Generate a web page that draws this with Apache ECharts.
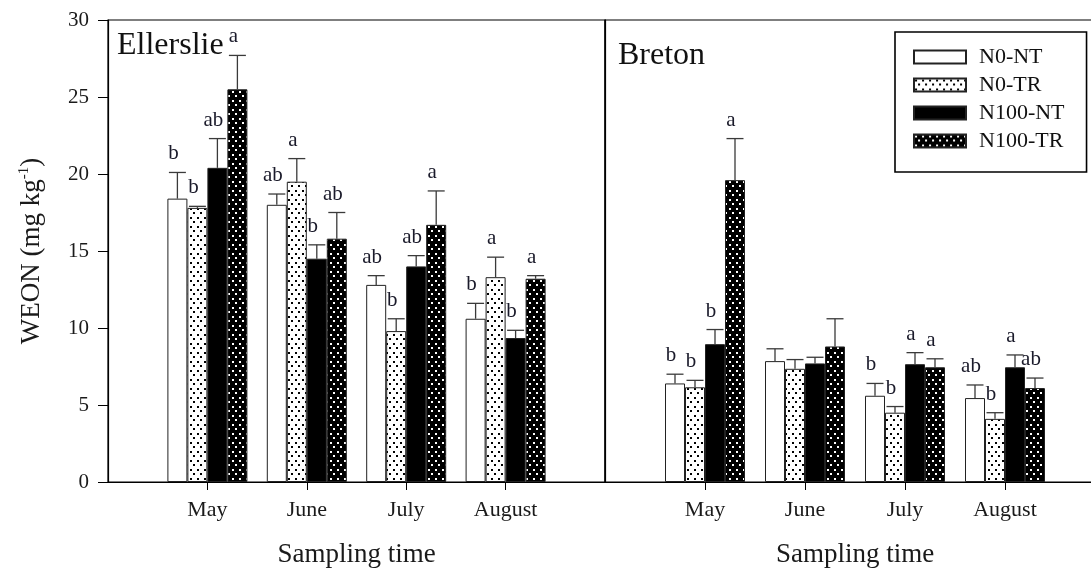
<!DOCTYPE html>
<html><head><meta charset="utf-8">
<script src="https://cdn.jsdelivr.net/npm/echarts@6/dist/echarts.min.js"></script>
<style>html,body{margin:0;padding:0;background:#fff;overflow:hidden}#c{width:1112px;height:575px}</style>
</head><body><div id="c"></div>
<script>
// ---------- DATA ----------
const months = ['May', 'June', 'July', 'August'];
const treatments = ['N0-NT', 'N0-TR', 'N100-NT', 'N100-TR'];
const panels = ['Ellerslie', 'Breton'];

// Ellerslie means and upper error (SE)
const ell_N0NT = [18.4, 18.0, 12.8, 10.6];
const ell_N0TR = [17.8, 19.5, 9.8, 13.3];
const ell_N100NT = [20.4, 14.5, 14.0, 9.35];
const ell_N100TR = [25.5, 15.8, 16.7, 13.2];
const ell_N0NT_err = [1.7, 0.7, 0.6, 1.0];
const ell_N0TR_err = [0.1, 1.5, 0.8, 1.3];
const ell_N100NT_err = [1.9, 0.9, 0.7, 0.5];
const ell_N100TR_err = [2.2, 1.7, 2.2, 0.2];
const ell_N0NT_sig = ['b', 'ab', 'ab', 'b'];
const ell_N0TR_sig = ['b', 'a', 'b', 'a'];
const ell_N100NT_sig = ['ab', 'b', 'ab', 'b'];
const ell_N100TR_sig = ['a', 'ab', 'a', 'a'];

// Breton
const bre_N0NT = [6.4, 7.85, 5.6, 5.45];
const bre_N0TR = [6.15, 7.35, 4.5, 4.1];
const bre_N100NT = [8.95, 7.7, 7.65, 7.45];
const bre_N100TR = [19.6, 8.8, 7.45, 6.1];
const bre_N0NT_err = [0.6, 0.8, 0.8, 0.85];
const bre_N0TR_err = [0.45, 0.6, 0.4, 0.4];
const bre_N100NT_err = [0.95, 0.4, 0.75, 0.8];
const bre_N100TR_err = [2.7, 1.8, 0.55, 0.65];
const bre_N0NT_sig = ['b', '', 'b', 'ab'];
const bre_N0TR_sig = ['b', '', 'b', 'b'];
const bre_N100NT_sig = ['b', '', 'a', 'a'];
const bre_N100TR_sig = ['a', '', 'a', 'ab'];

const yMin = 0, yMax = 30, yStep = 5;

// ---------- STYLE ----------
const FONT = '"Liberation Serif", "Times New Roman", serif';
const BAR_W = 20, CAP = 8.5;

function dots(bg, fg) {
  const c = document.createElement('canvas');
  c.width = 7; c.height = 9;
  const g = c.getContext('2d');
  g.fillStyle = bg; g.fillRect(0, 0, 7, 9);
  g.fillStyle = fg;
  g.fillRect(1, 1, 2, 2);
  g.fillRect(4, 5, 2, 2);
  return { image: c, repeat: 'repeat' };
}
const fills = ['#ffffff', dots('#ffffff', '#000000'), '#000000', dots('#000000', '#ffffff')];

const axisCats = [''].concat(months, ['']);
const pad = arr => ['-'].concat(arr, ['-']);

const data = [
  { vals: [ell_N0NT, ell_N0TR, ell_N100NT, ell_N100TR],
    errs: [ell_N0NT_err, ell_N0TR_err, ell_N100NT_err, ell_N100TR_err],
    sig: [ell_N0NT_sig, ell_N0TR_sig, ell_N100NT_sig, ell_N100TR_sig] },
  { vals: [bre_N0NT, bre_N0TR, bre_N100NT, bre_N100TR],
    errs: [bre_N0NT_err, bre_N0TR_err, bre_N100NT_err, bre_N100TR_err],
    sig: [bre_N0NT_sig, bre_N0TR_sig, bre_N100NT_sig, bre_N100TR_sig] }
];

const series = [];
data.forEach((p, gi) => {
  p.vals.forEach((v, s) => {
    series.push({
      name: treatments[s], type: 'bar', xAxisIndex: gi, yAxisIndex: gi,
      barWidth: BAR_W, barGap: '0%', data: pad(v),
      itemStyle: { color: fills[s], borderColor: '#222', borderWidth: 1 },
      silent: true
    });
  });
  const items = [];
  for (let s = 0; s < 4; s++) for (let m = 0; m < 4; m++)
    items.push([m + 1, p.vals[s][m], p.vals[s][m] + p.errs[s][m], s, p.sig[s][m]]);
  series.push({
    type: 'custom', xAxisIndex: gi, yAxisIndex: gi, z: 10, silent: true,
    data: items.map(d => [d[0], d[1], d[2]]),
    encode: { x: 0, y: 2 },
    renderItem: function (params, api) {
      const it = items[params.dataIndex];
      const base = api.coord([it[0], it[1]]);
      const top = api.coord([it[0], it[2]]);
      const x = base[0] + (it[3] - 1.5) * BAR_W;
      const ls = { stroke: '#3a3a3a', lineWidth: 1.3 };
      const ch = [
        { type: 'line', shape: { x1: x, y1: base[1], x2: x, y2: top[1] }, style: ls },
        { type: 'line', shape: { x1: x - CAP, y1: top[1], x2: x + CAP, y2: top[1] }, style: ls }
      ];
      if (it[4]) ch.push({ type: 'text', x: x - 4, y: top[1] - 8,
        style: { text: it[4], font: '21px ' + FONT, fill: '#1a1a2a', align: 'center', verticalAlign: 'bottom' } });
      return { type: 'group', children: ch };
    }
  });
});

const grids = [
  { left: 108, top: 20, width: 497, height: 462, show: true, borderColor: '#000', borderWidth: 1.2 },
  { left: 605, top: 20, width: 500, height: 462, show: true, borderColor: '#000', borderWidth: 1.2 }
];

const xAxes = [0, 1].map(gi => ({
  type: 'category', gridIndex: gi, data: axisCats, boundaryGap: false,
  axisLine: { lineStyle: { color: '#000', width: 1.2 } },
  axisTick: { length: 8, interval: (i) => i >= 1 && i <= 4, lineStyle: { color: '#000' } },
  axisLabel: { interval: 0, fontSize: 22, fontFamily: FONT, color: '#1a1a1a', margin: 17 },
  name: 'Sampling time', nameLocation: 'middle', nameGap: 59,
  nameTextStyle: { fontSize: 27, fontFamily: FONT, color: '#1a1a1a' },
  splitLine: { show: false }
}));

const yAxes = [
  { type: 'value', gridIndex: 0, min: yMin, max: yMax, interval: yStep,
    axisLine: { show: true, lineStyle: { color: '#000', width: 1.2 } },
    axisTick: { show: true, length: 10, lineStyle: { color: '#000' } },
    axisLabel: { fontSize: 21, fontFamily: FONT, color: '#1a1a1a', margin: 19 },
    splitLine: { show: false },
    name: 'WEON (mg kg{sup|-1})', nameLocation: 'middle', nameGap: 62, nameRotate: 90,
    nameTextStyle: { fontSize: 27, fontFamily: FONT, color: '#1a1a1a',
      rich: { sup: { fontSize: 15, fontFamily: FONT, color: '#1a1a1a', padding: [0, 0, 14, 0] } } } },
  { type: 'value', gridIndex: 1, min: yMin, max: yMax, interval: yStep,
    axisLine: { show: true, lineStyle: { color: '#000', width: 1.2 } },
    axisTick: { show: false }, axisLabel: { show: false }, splitLine: { show: false } }
];

const option = {
  backgroundColor: '#fff',
  animation: false,
  title: [
    { text: panels[0], left: 112, top: 25, textStyle: { fontSize: 32, fontWeight: 'normal', fontFamily: FONT, color: '#111' } },
    { text: panels[1], left: 613, top: 35, textStyle: { fontSize: 32, fontWeight: 'normal', fontFamily: FONT, color: '#111' } }
  ],
  legend: {
    data: treatments, orient: 'vertical', left: 895, top: 32,
    itemWidth: 52, itemHeight: 13, itemGap: 6,
    borderColor: '#000', borderWidth: 1.6, padding: [14, 22, 20, 18],
    icon: 'rect',
    textStyle: { fontSize: 22, fontFamily: FONT, color: '#111', padding: [0, 0, 0, 8] },
    selectedMode: false
  },
  grid: grids, xAxis: xAxes, yAxis: yAxes, series: series
};

const chart = echarts.init(document.getElementById('c'), null, { renderer: 'canvas' });
chart.setOption(option);
</script>
</body></html>
